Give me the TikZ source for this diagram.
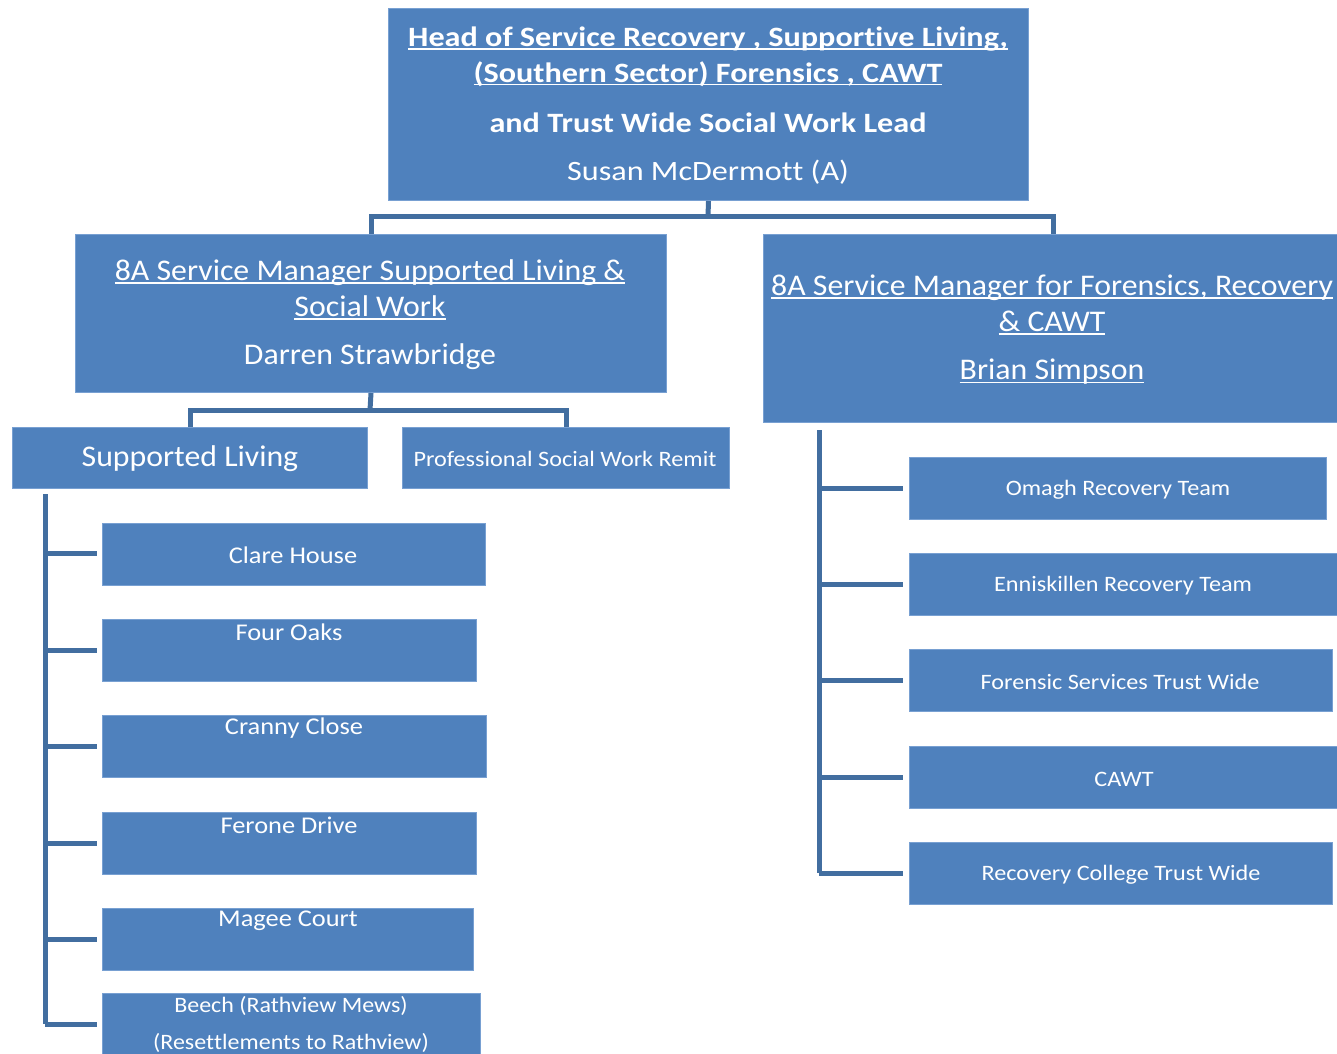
\documentclass[tikz,border=0pt]{standalone}
\usepackage{fontspec}
\usepackage{graphicx}
\setmainfont{Carlito}[Ligatures=NoCommon]
\definecolor{boxblue}{RGB}{79,129,189}
\definecolor{boxedge}{RGB}{120,160,210}
\definecolor{linkblue}{RGB}{66,110,160}
\newcommand{\fs}[1]{\fontsize{#1}{#1}\selectfont}
% keeps two letters apart so no ligature forms
\newcommand{\nolig}{\kern0pt{}}
% underline set just below the baseline
\newcommand{\ulined}[1]{\setbox0\hbox{#1}\rlap{\rule[-0.11em]{\wd0}{0.055em}}\copy0}
% horizontally widened text
\newcommand{\wide}[2]{\scalebox{#1}[1]{#2}}
\begin{document}
\begin{tikzpicture}[x=1pt,y=-1pt,
  box/.style={draw=boxedge, line width=1pt, fill=boxblue, rectangle, anchor=north west, inner sep=0pt},
  label/.style={text=white, align=center, inner sep=0pt, anchor=center},
  link/.style={draw=linkblue, line width=5pt}]
\useasboundingbox (0,0) rectangle (1337,1053);

% top level
\node[box, minimum width=640, minimum height=192] (head) at (388,8) {};
\node[label, font=\fs{28}\bfseries] at (708,39) {\wide{1.15}{\ulined{Head of Service Recovery , Support\nolig ive Living,}}};
\node[label, font=\fs{28}\bfseries] at (708,74) {\wide{1.15}{\ulined{(Southern Sector) Forensics , CAWT}}};
\node[label, font=\fs{28}\bfseries] at (708,123) {\wide{1.15}{and Trust Wide Social Work Lead}};
\node[label, font=\fs{28}] at (708,172) {\wide{1.15}{Susan McDermot\nolig t (A)}};

% service managers
\node[box, minimum width=591, minimum height=158] (smL) at (75,234) {};
\node[label, font=\fs{30}] at (370,273) {\wide{1.06}{\ulined{8A Service Manager Supported Living \&}}};
\node[label, font=\fs{30}] at (370,308) {\wide{1.06}{\ulined{Social Work}}};
\node[label, font=\fs{30}] at (370,357) {\wide{1.06}{Darren Strawbridge}};

\node[box, minimum width=580, minimum height=188] (smR) at (763,234) {};
\node[label, font=\fs{30}] at (1052,288) {\wide{1.06}{\ulined{8A Service Manager for Forensics, Recovery}}};
\node[label, font=\fs{30}] at (1052,323) {\wide{1.06}{\ulined{\& CAWT}}};
\node[label, font=\fs{30}] at (1052,372) {\wide{1.06}{\ulined{Brian Simpson}}};

\coordinate (jTop) at (708,216);
\draw[link] (head.south) -- (jTop);
\draw[link] (smL.north) |- (jTop) -| (smR.north);

% supported living branch
\node[box, minimum width=355, minimum height=61] (sl) at (12,427) {};
\node[label, font=\fs{30}] at (190,459) {\wide{1.06}{Supported Living}};
\node[box, minimum width=327, minimum height=61] (psw) at (402,427) {};
\node[label, font=\fs{22}] at (565,459) {\wide{1.1}{Professional Social Work Remit}};

\coordinate (jL) at (370,410);
\draw[link] (smL.south) -- (jL);
\draw[link] (190,427) |- (jL) -| (566,427);

% supported living units
\node[box, minimum width=383, minimum height=62] (clare) at (102,523) {};
\node[label, font=\fs{24}] at (293,555) {\wide{1.1}{Clare House}};
\node[box, minimum width=374, minimum height=62] (oaks) at (102,619) {};
\node[label, font=\fs{24}] at (289,632) {\wide{1.1}{Four Oaks}};
\node[box, minimum width=384, minimum height=62] (cranny) at (102,715) {};
\node[label, font=\fs{24}] at (294,728) {\wide{1.1}{Cranny Close}};
\node[box, minimum width=374, minimum height=62] (ferone) at (102,812) {};
\node[label, font=\fs{24}] at (289,825) {\wide{1.1}{Ferone Drive}};
\node[box, minimum width=371, minimum height=62] (magee) at (102,908) {};
\node[label, font=\fs{24}] at (288,921) {\wide{1.1}{Magee Court}};
\node[box, minimum width=378, minimum height=70] (beech) at (102,993) {};
\node[label, font=\fs{22}] at (291,1006) {\wide{1.09}{Beech (Rathview Mews)}};
\node[label, font=\fs{22}] at (291,1043) {\wide{1.09}{(Reset\nolig tlements to Rathview)}};

\coordinate (slTop) at (45,494);
\coordinate (slEnd) at (45,1024);
\draw[link] (slTop) -- (slEnd);
\foreach \y in {553,650,746,843,939,1024}
  \draw[link] (45,\y) -- (97,\y);

% forensics and recovery teams
\node[box, minimum width=417, minimum height=62] (omagh) at (909,457) {};
\node[label, font=\fs{22}] at (1118,490) {\wide{1.1}{Omagh Recovery Team}};
\node[box, minimum width=434, minimum height=62] (ennis) at (909,553) {};
\node[label, font=\fs{22}] at (1123,586) {\wide{1.1}{Enniskillen Recovery Team}};
\node[box, minimum width=423, minimum height=62] (foren) at (909,649) {};
\node[label, font=\fs{22}] at (1120,682) {\wide{1.1}{Forensic Services Trust Wide}};
\node[box, minimum width=434, minimum height=62] (cawt) at (909,746) {};
\node[label, font=\fs{22}] at (1124,779) {\wide{1.1}{CAWT}};
\node[box, minimum width=423, minimum height=62] (college) at (909,842) {};
\node[label, font=\fs{22}] at (1121,875) {\wide{1.1}{Recovery College Trust Wide}};

\coordinate (rTop) at (819,430);
\coordinate (rEnd) at (819,873);
\draw[link] (rTop) -- (rEnd);
\foreach \y in {488,584,680,777,873}
  \draw[link] (819,\y) -- (903,\y);
\end{tikzpicture}
\end{document}
